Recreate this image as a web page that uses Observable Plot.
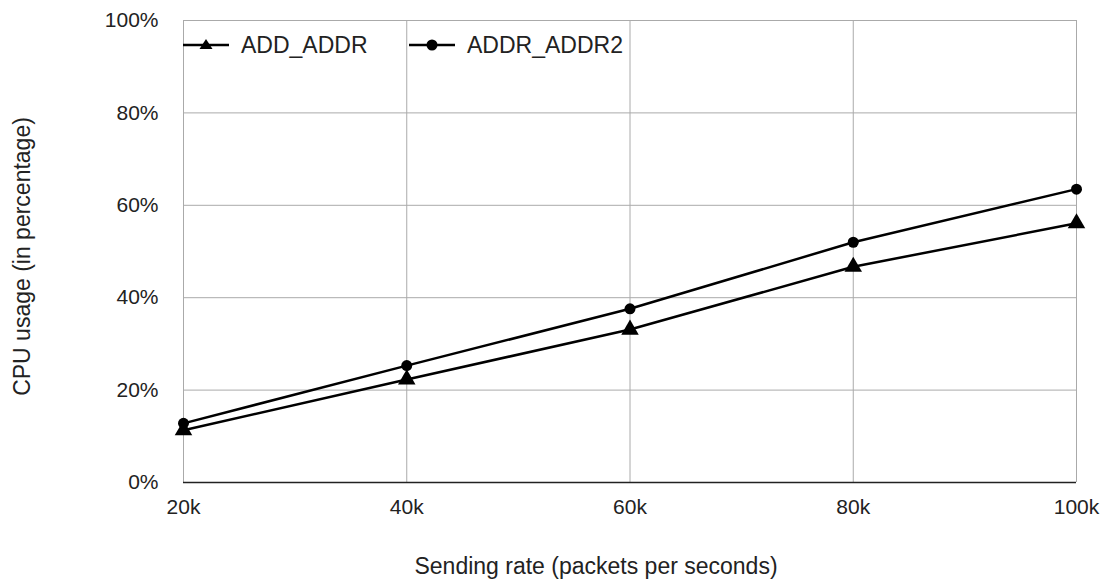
<!DOCTYPE html>
<html>
<head>
<meta charset="utf-8">
<script src="https://cdn.jsdelivr.net/npm/d3@7"></script>
<script src="https://cdn.jsdelivr.net/npm/@observablehq/plot@0.6"></script>
<style>
  html, body { margin: 0; padding: 0; background: #fff; }
  #wrap { position: relative; width: 1113px; height: 588px; font-family: "Liberation Sans", Arial, sans-serif; }
  .legend { position: absolute; top: 32px; height: 26px; display: flex; align-items: center; font-size: 23px; color: #222; }
  .legend svg { margin-right: 12px; }
</style>
</head>
<body>
<div id="wrap"></div>
<script>
const rates = [20, 40, 60, 80, 100];            // sending rate, thousand packets/s
const seriesNames = ["ADD_ADDR", "ADDR_ADDR2"];
const addAddr = [11.3, 22.3, 33.1, 46.7, 56.1];   // CPU %
const addrAddr2 = [12.8, 25.3, 37.6, 52.0, 63.5]; // CPU %
const xTicks = [20, 40, 60, 80, 100];
const yTicks = [0, 20, 40, 60, 80, 100];
const xTitle = "Sending rate (packets per seconds)";
const yTitle = "CPU usage (in percentage)";

const data = [
  ...rates.map((r, i) => ({rate: r, cpu: addAddr[i], series: seriesNames[0]})),
  ...rates.map((r, i) => ({rate: r, cpu: addrAddr2[i], series: seriesNames[1]}))
];

const chart = Plot.plot({
  width: 1113,
  height: 588,
  marginLeft: 183,
  marginRight: 37,
  marginTop: 20,
  marginBottom: 106,
  style: {fontFamily: '"Liberation Sans", Arial, sans-serif', fontSize: "21px", color: "#222", background: "#fff"},
  x: {domain: [20, 100], ticks: xTicks},
  y: {domain: [0, 100], ticks: yTicks},
  marks: [
    Plot.gridX(xTicks, {stroke: "#aaa", strokeOpacity: 1, strokeWidth: 1}),
    Plot.gridY(yTicks, {stroke: "#aaa", strokeOpacity: 1, strokeWidth: 1}),
    Plot.ruleY([0], {stroke: "#222", strokeWidth: 1.5}),
    Plot.axisX(xTicks, {tickSize: 0, tickPadding: 17, tickFormat: d => d + "k", label: null, fill: "#222", fontSize: 21}),
    Plot.axisY(yTicks, {tickSize: 0, tickPadding: 25, tickFormat: d => d + "%", label: null, fill: "#222", fontSize: 21}),
    Plot.line(data, {x: "rate", y: "cpu", z: "series", stroke: "#000", strokeWidth: 2.5}),
    Plot.dot(data.filter(d => d.series === seriesNames[0]), {x: "rate", y: "cpu", symbol: "triangle", r: 6.5, fill: "#000", stroke: null}),
    Plot.dot(data.filter(d => d.series === seriesNames[1]), {x: "rate", y: "cpu", symbol: "circle", r: 5.5, fill: "#000", stroke: null}),
    Plot.text([xTitle], {frameAnchor: "bottom", dy: 91, dx: -34, text: d => d, fill: "#222", fontSize: 23}),
    Plot.text([yTitle], {frameAnchor: "left", textAnchor: "middle", dx: -161, dy: 5, rotate: -90, text: d => d, fill: "#222", fontSize: 23})
  ]
});

const wrap = document.getElementById("wrap");
wrap.appendChild(chart);

// Legend (HTML overlay)
const legendItems = [
  {name: seriesNames[0], symbol: "triangle", left: 183},
  {name: seriesNames[1], symbol: "circle", left: 409}
];
for (const item of legendItems) {
  const div = document.createElement("div");
  div.className = "legend";
  div.style.left = item.left + "px";
  const marker = item.symbol === "triangle"
    ? '<path d="M23,4 L29.5,14 L16.5,14 Z" fill="#000"/>'
    : '<circle cx="23" cy="10" r="5.5" fill="#000"/>';
  div.innerHTML = `<svg width="46" height="20"><line x1="0" x2="46" y1="10" y2="10" stroke="#000" stroke-width="2.5"/>${marker}</svg><span>${item.name}</span>`;
  wrap.appendChild(div);
}
</script>
</body>
</html>
